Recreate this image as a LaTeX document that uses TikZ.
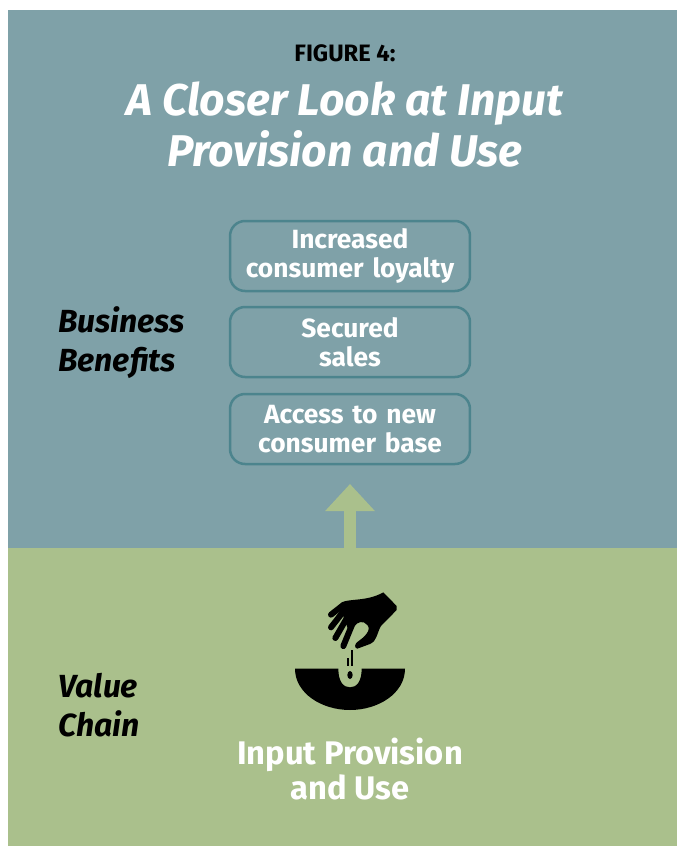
\documentclass[tikz,border=0pt]{standalone}
\usepackage{fontspec}
\setmainfont{Fira Sans}
\usetikzlibrary{arrows.meta}
\definecolor{panelteal}{HTML}{7FA1A8}
\definecolor{panelgreen}{HTML}{AAC08C}
\definecolor{boxteal}{HTML}{4C848D}
\tikzset{
	benefit/.style={draw=boxteal, line width=0.05cm, rounded corners=0.3cm, minimum width=4.8cm, minimum height=1.4cm, text width=4.7cm, align=center, text=white, font=\fontsize{15}{16.4}\selectfont\bfseries, inner sep=0pt},
	sidelabel/.style={align=left, anchor=west, font=\fontsize{18.2}{22}\selectfont\bfseries\itshape, inner sep=0pt},
	finger/.style={line width=0.12cm, line cap=round}
}
\begin{document}
\begin{tikzpicture}[x=0.02cm, y=-0.02cm]
	\useasboundingbox (0,0) rectangle (677,846);
	\fill [panelteal] (8,10) rectangle (677,548);
	\fill [panelgreen] (8,548) rectangle (677,846);

	\node (figno) at (345,53) [font=\fontsize{13.5}{15}\selectfont\bfseries, inner sep=0pt] {FIGURE 4:};
	\node (title) at (345,124.5) [align=center, text=white, font=\fontsize{25.3}{29.5}\selectfont\bfseries\itshape, inner sep=0pt] {A Closer Look at Input\\Provision and Use};

	\node (loyalty) at (350,256) [benefit] {Increased\\consumer loyalty};
	\node (sales) at (350,342) [benefit] {Secured\\sales};
	\node (access) at (350,429) [benefit] {Access to new\\consumer base};

	\node (business) at (58,342.5) [sidelabel] {Business\\Benefits};
	\node (chain) at (58,705) [sidelabel] {Value\\Chain};
	\node (input) at (350,769) [align=center, text=white, font=\fontsize{18.6}{20}\selectfont\bfseries, inner sep=0pt] {Input Provision\\and Use};

	\coordinate (arrowfoot) at (350,548);
	\coordinate (arrowtip) at (350,484);
	\draw [-{Triangle[width=0.96cm, length=0.54cm]}, panelgreen, line width=0.24cm] (arrowfoot) -- (arrowtip);

	% hand and bowl
	\begin{scope}[shift={(280,570)}, scale=1/3]
		\fill (45,296) -- (175,296) .. controls (175,335) and (190,352) .. (210,352) .. controls (230,352) and (245,335) .. (245,296) -- (375,296) .. controls (375,370) and (295,420) .. (210,420) .. controls (125,420) and (45,370) .. (45,296) -- cycle;
		\fill (210,315) ellipse [x radius=8, y radius=12];
		\draw [line width=0.03cm] (216,240) -- (216,288);
		\draw [line width=0.03cm] (204,265) -- (204,288);
		\fill (310,67) -- (350,108) -- (350,120) -- (303,168) .. controls (290,190) and (292,212) .. (270,222) -- (232,236) .. controls (222,234) and (224,222) .. (232,216) .. controls (255,200) and (275,180) .. (262,165) .. controls (250,150) and (232,155) .. (222,170) -- (205,180) -- (185,125) -- (185,97) .. controls (210,85) and (260,95) .. (310,67) -- cycle;
		\draw [finger] (220,155) -- (190,228);
		\draw [finger] (203,140) -- (166,204);
		\draw [finger] (192,122) -- (153,172);
		\draw [finger] (190,105) -- (153,134);
	\end{scope}
\end{tikzpicture}
\end{document}
